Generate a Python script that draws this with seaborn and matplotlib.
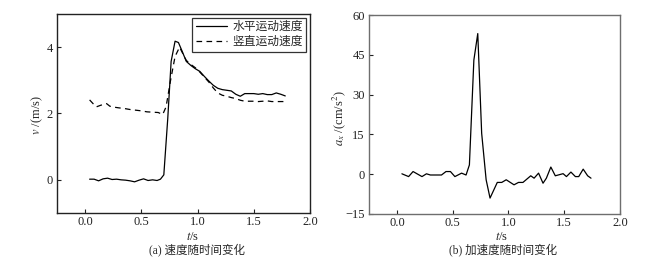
import matplotlib
matplotlib.use("Agg")
import matplotlib.pyplot as plt
import seaborn as sns
import pandas as pd

# ---- data ----
t_h = [0.04, 0.08, 0.12, 0.16, 0.20, 0.24, 0.28, 0.32, 0.36, 0.40, 0.44, 0.48, 0.52, 0.56,
       0.60, 0.64, 0.67, 0.70, 0.735, 0.765, 0.80, 0.83, 0.86, 0.90, 0.94, 0.98, 1.02, 1.06,
       1.10, 1.14, 1.18, 1.22, 1.26, 1.30, 1.34, 1.38, 1.42, 1.46, 1.50, 1.54, 1.58, 1.62,
       1.66, 1.70, 1.74, 1.78]
v_h = [0.02, 0.02, -0.03, 0.03, 0.05, 0.01, 0.02, 0.00, -0.01, -0.03, -0.06, -0.01, 0.03, -0.02,
       0.00, -0.02, 0.02, 0.15, 1.85, 3.57, 4.18, 4.14, 3.90, 3.57, 3.45, 3.35, 3.27, 3.12,
       2.98, 2.85, 2.76, 2.72, 2.70, 2.68, 2.58, 2.52, 2.60, 2.60, 2.60, 2.58, 2.60, 2.57,
       2.57, 2.62, 2.58, 2.53]

t_v = [0.04, 0.07, 0.10, 0.14, 0.19, 0.22, 0.26, 0.30, 0.35, 0.40, 0.45, 0.50, 0.55, 0.60,
       0.65, 0.69, 0.72, 0.76, 0.80, 0.84, 0.87, 0.90, 0.94, 0.98, 1.02, 1.06, 1.10, 1.14,
       1.18, 1.22, 1.26, 1.30, 1.34, 1.38, 1.42, 1.46, 1.50, 1.54, 1.58, 1.62, 1.66, 1.70,
       1.74, 1.78]
v_v = [2.41, 2.30, 2.20, 2.25, 2.30, 2.22, 2.19, 2.17, 2.15, 2.12, 2.10, 2.08, 2.05, 2.04,
       2.03, 1.97, 2.20, 3.00, 3.72, 4.00, 3.80, 3.60, 3.48, 3.38, 3.25, 3.10, 2.95, 2.77,
       2.62, 2.55, 2.52, 2.48, 2.45, 2.40, 2.37, 2.37, 2.37, 2.36, 2.37, 2.38, 2.36, 2.36,
       2.36, 2.36]

t_a = [0.045, 0.105, 0.145, 0.225, 0.265, 0.30, 0.36, 0.40, 0.44, 0.48, 0.52, 0.58, 0.62,
       0.65, 0.69, 0.725, 0.76, 0.80, 0.835, 0.90, 0.94, 0.98, 1.05, 1.09, 1.13, 1.20, 1.23,
       1.27, 1.31, 1.34, 1.38, 1.42, 1.49, 1.52, 1.56, 1.60, 1.63, 1.67, 1.71, 1.74]
a_x = [0.15, -0.9, 1.0, -0.9, 0.15, -0.3, -0.3, -0.3, 1.0, 1.0, -0.9, 0.4, -0.3,
       3.5, 43.0, 53.0, 15.4, -2.1, -9.0, -3.1, -3.1, -2.1, -4.0, -3.1, -3.1, -0.6, -1.5,
       0.4, -3.4, -1.5, 2.7, -0.6, 0.2, -0.9, 0.8, -0.9, -0.9, 1.9, -0.6, -1.5]

legend_labels = ["水平运动速度", "竖直运动速度"]
captions = ["(a) 速度随时间变化", "(b) 加速度随时间变化"]

# ---- style ----
sns.set_style("ticks")
plt.rcParams["font.family"] = ["Liberation Serif", "Noto Sans CJK SC"]
plt.rcParams["mathtext.fontset"] = "stix"
plt.rcParams["axes.unicode_minus"] = True

fig = plt.figure(figsize=(6.54, 2.64), dpi=100)
ax1 = fig.add_axes([57 / 654, 1 - 213 / 264, (310 - 57) / 654, (213 - 14) / 264])
ax2 = fig.add_axes([369 / 654, 1 - 214 / 264, (620 - 369) / 654, (214 - 15) / 264])

df_h = pd.DataFrame({"t": t_h, "v": v_h})
df_v = pd.DataFrame({"t": t_v, "v": v_v})
df_a = pd.DataFrame({"t": t_a, "a": a_x})

sns.lineplot(data=df_h, x="t", y="v", ax=ax1, color="black", lw=0.9,
             label=legend_labels[0])
sns.lineplot(data=df_v, x="t", y="v", ax=ax1, color="black", lw=0.9,
             linestyle=(0, (4.5, 3.5)), label=legend_labels[1])
sns.lineplot(data=df_a, x="t", y="a", ax=ax2, color="black", lw=0.9)

ax1.set_xlim(-0.25, 2.0)
ax1.set_ylim(-1, 5)
ax1.set_yticks([0, 2, 4])
ax2.set_xlim(-0.25, 2.0)
ax2.set_ylim(-15, 60)
ax2.set_yticks([-15, 0, 15, 30, 45, 60])
for ax, sc in ((ax1, "#222222"), (ax2, "#6e6e6e")):
    ax.set_xticks([0.0, 0.5, 1.0, 1.5, 2.0])
    ax.set_xticklabels(["0.0", "0.5", "1.0", "1.5", "2.0"])
    ax.tick_params(direction="in", length=3, width=0.8, labelsize=9, colors="#222222",
                   pad=3)
    ax.tick_params(axis="x", pad=2)
    for s in ax.spines.values():
        s.set_visible(True)
        s.set_color(sc)
        s.set_linewidth(1.0)
    ax.set_xlabel("")
    ax.set_ylabel("")

leg = ax1.legend(loc="upper right", fontsize=8.5, frameon=True, fancybox=False,
                 handlelength=2.6, borderaxespad=0.3, borderpad=0.3, labelspacing=0.25,
                 handletextpad=0.5)
leg.get_frame().set_edgecolor("black")
leg.get_frame().set_linewidth(0.9)

# axis labels and captions
fig.text(193 / 654, 1 - 236.5 / 264, r"$t$/s", ha="center", va="center", fontsize=9)
fig.text(502 / 654, 1 - 236.5 / 264, r"$t$/s", ha="center", va="center", fontsize=9)
fig.text(37 / 654, 1 - 115 / 264, r"$v$ /(m/s)", ha="center", va="center",
         rotation=90, fontsize=9)
fig.text(339 / 654, 1 - 118 / 264, r"$a_x$ /(cm/s$^2$)", ha="center", va="center",
         rotation=90, fontsize=9)
fig.text(197 / 654, 1 - 250 / 264, captions[0], ha="center", va="center", fontsize=8.3)
fig.text(503 / 654, 1 - 250 / 264, captions[1], ha="center", va="center", fontsize=8.3)

fig.savefig("out.png", dpi=100, facecolor="white")
